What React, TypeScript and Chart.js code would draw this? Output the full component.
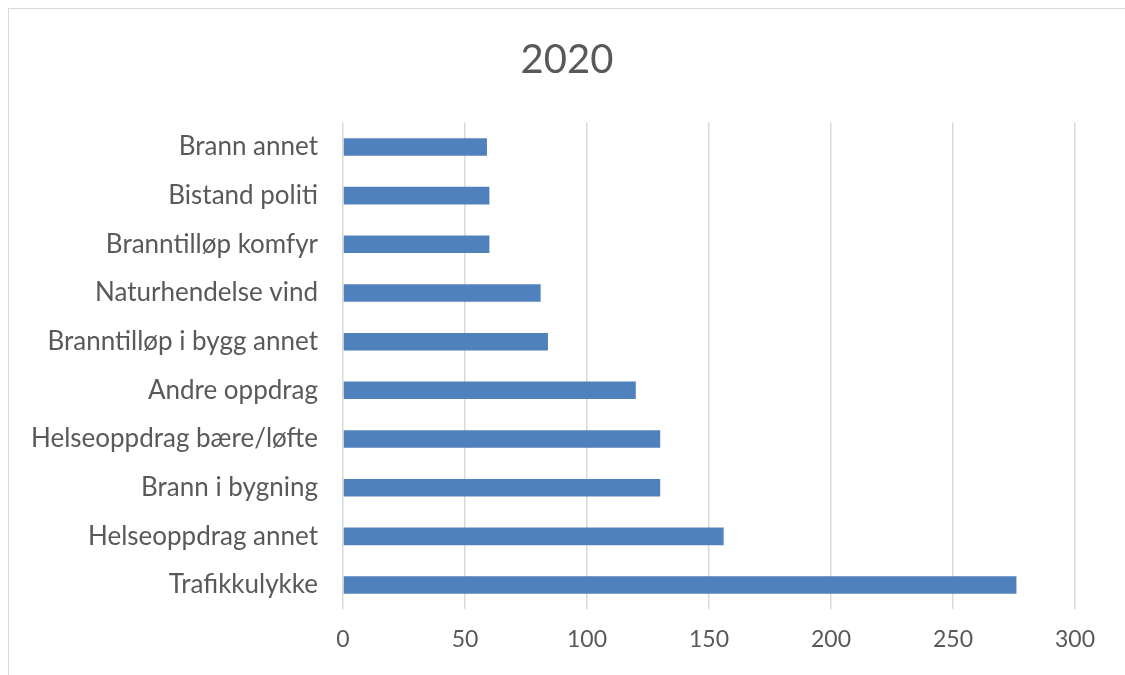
import React, { useEffect, useRef } from "react";
import { Chart, registerables } from "chart.js";

Chart.register(...registerables);

const categories: string[] = [
  "Brann annet",
  "Bistand politi",
  "Branntilløp komfyr",
  "Naturhendelse vind",
  "Branntilløp i bygg annet",
  "Andre oppdrag",
  "Helseoppdrag bære/løfte",
  "Brann i bygning",
  "Helseoppdrag annet",
  "Trafikkulykke",
];
const values: number[] = [59, 60, 60, 81, 84, 120, 130, 130, 156, 276];
const xTicks: number[] = [0, 50, 100, 150, 200, 250, 300];
const titleText = "2020";

const FONT = "Lato, 'Open Sans', sans-serif";
const TEXT = "#595959";

const titlePlugin = {
  id: "centeredTitle",
  afterDraw(chart: any) {
    const ctx = chart.ctx;
    ctx.save();
    ctx.fillStyle = TEXT;
    ctx.font = `normal 40px ${FONT}`;
    ctx.textAlign = "center";
    ctx.textBaseline = "middle";
    ctx.fillText(titleText, chart.width / 2, 51);
    ctx.restore();
  },
};

export default function App() {
  const ref = useRef<HTMLCanvasElement | null>(null);
  useEffect(() => {
    if (!ref.current) return;
    const chart = new Chart(ref.current, {
      type: "bar",
      data: {
        labels: categories,
        datasets: [
          {
            data: values,
            backgroundColor: "#4f81bd",
            borderWidth: 0,
            categoryPercentage: 1,
            barPercentage: 0.36,
          },
        ],
      },
      plugins: [titlePlugin],
      options: {
        indexAxis: "y",
        animation: false,
        responsive: false,
        devicePixelRatio: 1,
        layout: { padding: { left: 0, right: 50, top: 113.6, bottom: 0 } },
        plugins: {
          legend: { display: false },
          tooltip: { enabled: false },
          title: { display: false },
        },
        scales: {
          x: {
            min: xTicks[0],
            max: xTicks[xTicks.length - 1],
            afterBuildTicks: (s: any) => {
              s.ticks = xTicks.map((v) => ({ value: v }));
            },
            afterFit: (s: any) => {
              s.height = 65.6;
            },
            grid: { color: "#d9d9d9", lineWidth: 1.5, drawTicks: false },
            border: { display: false },
            ticks: {
              color: TEXT,
              padding: 16,
              font: { family: FONT, size: 23 },
            },
          },
          y: {
            afterFit: (s: any) => {
              s.width = 334;
            },
            grid: { display: false, drawTicks: false },
            border: { display: false },
            ticks: {
              color: TEXT,
              padding: 25,
              autoSkip: false,
              font: { family: FONT, size: 26 },
            },
          },
        },
      },
    });
    return () => chart.destroy();
  }, []);
  return (
    <div
      style={{
        position: "fixed",
        left: 8,
        top: 8,
        width: 1117,
        height: 667,
        borderTop: "1px solid #d9d9d9",
        borderLeft: "1px solid #d9d9d9",
        background: "#fff",
      }}
    >
      <canvas ref={ref} width={1116} height={666} style={{ display: "block" }} />
    </div>
  );
}
